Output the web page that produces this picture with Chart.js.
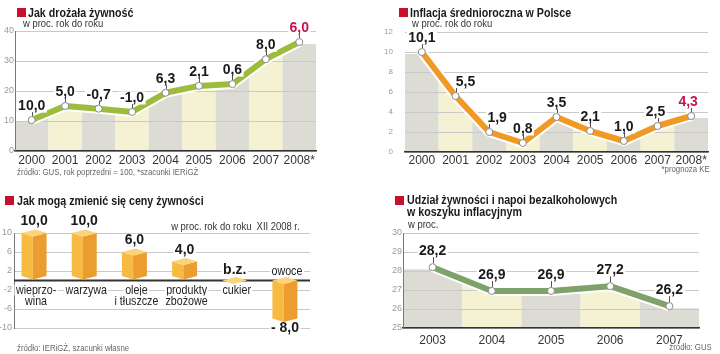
<!DOCTYPE html>
<html><head><meta charset="utf-8">
<script src="https://cdn.jsdelivr.net/npm/chart.js@4.4.1/dist/chart.umd.min.js"></script>
<style>
html,body{margin:0;padding:0;background:#fff;width:720px;height:354px;overflow:hidden}
body{position:relative;font-family:"Liberation Sans",Arial,sans-serif;color:#1a1a1a}
canvas{position:absolute}
.t{position:absolute;white-space:nowrap;line-height:1;transform:scaleX(0.82);transform-origin:left top}
.r{transform-origin:right top}
.title{font-weight:bold;font-size:13px}
.sq{position:absolute;width:9px;height:9px;background:#c8102e}
.sub{font-size:11.5px;color:#333}
.src{font-size:9.5px;color:#666}
</style></head><body>
<canvas id="c1" width="360" height="177" style="left:0;top:0"></canvas>
<canvas id="c2" width="360" height="177" style="left:360px;top:0"></canvas>
<canvas id="c3" width="360" height="177" style="left:0;top:177px"></canvas>
<canvas id="c4" width="360" height="177" style="left:360px;top:177px"></canvas>

<div class="sq" style="left:17px;top:8px"></div>
<div class="t title" style="left:28px;top:6px">Jak drożała żywność</div>
<div class="t sub" style="left:23px;top:17.5px">w proc. rok do roku</div>
<div class="t src" style="left:17px;top:167px">źródło: GUS, rok poprzedni = 100, *szacunki IERiGŻ</div>

<div class="sq" style="left:399px;top:8px"></div>
<div class="t title" style="left:410px;top:6px">Inflacja średnioroczna w Polsce</div>
<div class="t sub" style="left:412px;top:17.5px">w proc. rok do roku</div>
<div class="t src r" style="right:10px;top:164px">*prognoza KE</div>

<div class="sq" style="left:5px;top:195.5px"></div>
<div class="t title" style="left:17px;top:193.6px">Jak mogą zmienić się ceny żywności</div>
<div class="t sub r" style="right:420px;top:220.6px">w proc. rok do roku&nbsp;&nbsp;XII 2008 r.</div>
<div class="t src" style="left:17px;top:343px">źródło: IERiGŻ, szacunki własne</div>

<div class="sq" style="left:395px;top:196px"></div>
<div class="t title" style="left:407px;top:193.8px;line-height:12px">Udział żywności i napoi bezalkoholowych<br>w koszyku inflacyjnym</div>
<div class="t sub" style="left:408px;top:219.3px">w proc.</div>
<div class="t src r" style="right:8px;top:342px">źródło: GUS</div>

<script>
// ---------- DATA ----------
const foodYears = ['2000','2001','2002','2003','2004','2005','2006','2007','2008*'];
const foodLevel = [10.3, 15.0, 14.1, 13.0, 19.4, 21.7, 22.3, 30.6, 36.3];
const foodLabels = ['10,0','5,0','-0,7','-1,0','6,3','2,1','0,6','8,0','6,0'];

const inflYears = ['2000','2001','2002','2003','2004','2005','2006','2007','2008*'];
const inflValues = [10.0, 5.6, 2.0, 0.9, 3.5, 2.1, 1.1, 2.6, 3.6];
const inflLabels = ['10,1','5,5','1,9','0,8','3,5','2,1','1,0','2,5','4,3'];

const priceCategories = [['wieprzo-','wina'],['warzywa'],['oleje','i tłuszcze'],['produkty','zbożowe'],['cukier'],['owoce']];
const priceValues = [10, 10, 6, 4, 0, -8];
const priceLabels = ['10,0','10,0','6,0','4,0','b.z.','- 8,0'];

const shareYears = ['2003','2004','2005','2006','2007'];
const shareValues = [28.2, 26.95, 26.95, 27.2, 26.15];
const shareLabels = ['28,2','26,9','26,9','27,2','26,2'];

// ---------- STYLE ----------
const SANS = '"Liberation Sans",Arial,sans-serif';
const BAND_COLORS = ['#dcdcd5', '#f4f2d2'];
const HILITE = '#c8144e';
const NARROW_SCALE = 0.82;

const bandArea = {
  id: 'bandArea',
  beforeDraw(chart, args, opts) {
    if (!opts || !opts.enabled) return;
    const pts = chart.getDatasetMeta(0).data;
    const a = chart.chartArea;
    const ctx = chart.ctx;
    const off = 2;
    ctx.save();
    ctx.beginPath();
    ctx.moveTo(a.left, pts[0].y + off);
    pts.forEach(p => ctx.lineTo(p.x, p.y + off));
    ctx.lineTo(a.right, pts[pts.length - 1].y + off);
    ctx.lineTo(a.right, a.bottom);
    ctx.lineTo(a.left, a.bottom);
    ctx.closePath();
    ctx.clip();
    for (let i = 0; i < pts.length; i++) {
      const x0 = i === 0 ? a.left : (pts[i - 1].x + pts[i].x) / 2;
      const x1 = i === pts.length - 1 ? a.right : (pts[i].x + pts[i + 1].x) / 2;
      ctx.fillStyle = BAND_COLORS[i % 2];
      ctx.fillRect(x0, a.top, x1 - x0, a.bottom - a.top);
    }
    ctx.restore();
  }
};

function labelBox(ctx, text, x, y) {
  const w = ctx.measureText(text).width;
  ctx.fillStyle = '#fff';
  ctx.fillRect(x - w / 2 - 1.5, y - 6.5, w + 3, 13);
}

const pointLabels = {
  id: 'pointLabels',
  afterDatasetsDraw(chart, args, opts) {
    if (!opts || !opts.labels) return;
    const meta = chart.getDatasetMeta(0);
    const ctx = chart.ctx;
    ctx.save();
    ctx.font = 'bold 14px ' + SANS;
    ctx.textAlign = 'center';
    ctx.textBaseline = 'middle';
    meta.data.forEach((p, i) => {
      const text = opts.labels[i];
      const x = p.x + (opts.dx ? opts.dx[i] : 0);
      const y = p.y + opts.dy;
      labelBox(ctx, text, x, y);
      ctx.strokeStyle = '#555';
      ctx.lineWidth = 1;
      ctx.beginPath();
      ctx.moveTo(Math.round(p.x) + 0.5, p.y - 4);
      ctx.lineTo(Math.round(p.x) + 0.5, y + 6);
      ctx.stroke();
      ctx.fillStyle = (opts.hilite === i) ? HILITE : '#1a1a1a';
      ctx.fillText(text, x, y);
    });
    ctx.restore();
  }
};

Chart.register(bandArea, pointLabels);

function lineChart(id, labels, values, texts, color, yMin, yMax, step, lay, yWidth, xHeight, tickFont, tickPad, yBorder, dy, dx, hilite, xPad) {
  return new Chart(document.getElementById(id), {
    type: 'line',
    data: {
      labels: labels,
      datasets: [
        { data: values, borderColor: color, borderWidth: 6, tension: 0, borderJoinStyle: 'round',
          pointRadius: 3.5, pointBackgroundColor: '#fff', pointBorderColor: '#8a8a8a', pointBorderWidth: 1 },
        { data: values, borderColor: '#ffffff', borderWidth: 10, tension: 0, borderJoinStyle: 'round', pointRadius: 0 }
      ]
    },
    options: {
      responsive: false, animation: false, devicePixelRatio: 1,
      layout: { padding: lay },
      plugins: {
        legend: { display: false }, tooltip: { enabled: false }, title: { display: false },
        bandArea: { enabled: true },
        pointLabels: { labels: texts, dy: dy, dx: dx, hilite: hilite }
      },
      scales: {
        x: {
          offset: true,
          grid: { display: false, drawTicks: false, offset: true },
          border: { display: true, color: '#333', width: 1.5 },
          ticks: { color: '#333', font: { family: SANS, size: 12 }, padding: xPad, maxRotation: 0, autoSkip: false },
          afterFit(s) { s.height = xHeight; }
        },
        y: {
          min: yMin, max: yMax,
          grid: { color: '#c9c9c9', lineWidth: 1, drawTicks: false },
          border: { display: yBorder, color: '#777', width: 1 },
          ticks: { stepSize: step, color: '#9a9a9a', font: { family: SANS, size: tickFont }, padding: tickPad },
          afterFit(s) { s.width = yWidth; }
        }
      }
    }
  });
}

lineChart('c1', foodYears, foodLevel, foodLabels, '#9dbb3d', 0, 40, 10,
  { left: 0, top: 31, right: 44, bottom: 0 }, 15, 26, 9, 1, true, -14, null, 8, 2);

lineChart('c2', inflYears, inflValues, inflLabels, '#f09a26', 0, 12, 2,
  { left: 0, top: 32, right: 12, bottom: 0 }, 45, 25, 8, 12, false, -14, [0, 10, 8, 0, 0, 0, 0, -2, -3], 8, 1);

lineChart('c4', shareYears, shareValues, shareLabels, '#7fa16a', 25, 30, 1,
  { left: 0, top: 56, right: 21, bottom: 0 }, 43, 26, 9, 1, true, -16, null, -1, 5);

// ---------- 3D bar chart ----------
function narrowText(ctx, text, x, y) {
  ctx.save();
  ctx.translate(x, y);
  ctx.scale(NARROW_SCALE, 1);
  ctx.fillText(text, 0, 0);
  ctx.restore();
}

const bars3d = {
  id: 'bars3d',
  beforeDatasetsDraw(chart, args, opts) {
    if (!opts || !opts.enabled) return;
    const ctx = chart.ctx, a = chart.chartArea;
    const y0 = chart.scales.y.getPixelForValue(0);
    ctx.save();
    ctx.strokeStyle = '#333';
    ctx.lineWidth = 2;
    ctx.beginPath();
    ctx.moveTo(a.left, y0);
    ctx.lineTo(a.right, y0);
    ctx.stroke();
    ctx.restore();
  },
  afterDatasetsDraw(chart, args, opts) {
    if (!opts || !opts.enabled) return;
    const ctx = chart.ctx;
    const meta = chart.getDatasetMeta(0);
    const y0 = chart.scales.y.getPixelForValue(0);
    ctx.save();
    // category labels first (white boxes), then bars, then values
    ctx.textAlign = 'center';
    ctx.textBaseline = 'middle';
    ctx.font = '13px ' + SANS;
    meta.data.forEach((bar, i) => {
      const v = priceValues[i];
      const lines = priceCategories[i];
      lines.forEach((ln, k) => {
        const ly = v >= 0 ? y0 + 9.5 + k * 11 : y0 - 9 - (lines.length - 1 - k) * 11;
        const lx = bar.x + 2;
        const tw = ctx.measureText(ln).width * NARROW_SCALE;
        ctx.fillStyle = '#fff';
        ctx.fillRect(lx - tw / 2 - 1.5, ly - 5.5, tw + 3, 11);
        ctx.fillStyle = '#222';
        narrowText(ctx, ln, lx, ly);
      });
    });
    meta.data.forEach((bar, i) => {
      const w = bar.width;
      const L = bar.x - w / 2, R = bar.x + w / 2, M = L + w * 0.45;
      const yTop = Math.min(bar.y, bar.base), yBot = Math.max(bar.y, bar.base);
      const d = 3.5;
      const pos = priceValues[i] > 0;
      const yb = pos ? yBot - 1 - d : yBot;
      if (yBot - yTop > 1) {
        ctx.fillStyle = '#f7bb43';
        ctx.beginPath();
        ctx.moveTo(L, yTop); ctx.lineTo(M, yTop + d); ctx.lineTo(M, yb + d); ctx.lineTo(L, yb);
        ctx.closePath(); ctx.fill();
        ctx.fillStyle = '#eb9d2f';
        ctx.beginPath();
        ctx.moveTo(M, yTop + d); ctx.lineTo(R, yTop); ctx.lineTo(R, yb); ctx.lineTo(M, yb + d);
        ctx.closePath(); ctx.fill();
      }
      ctx.fillStyle = '#fcd27a';
      ctx.beginPath();
      ctx.moveTo(L, yTop); ctx.lineTo(M, yTop + d); ctx.lineTo(R, yTop); ctx.lineTo(L + R - M, yTop - d);
      ctx.closePath(); ctx.fill();
    });
    ctx.font = 'bold 14px ' + SANS;
    meta.data.forEach((bar, i) => {
      const v = priceValues[i];
      const yTop = Math.min(bar.y, bar.base), yBot = Math.max(bar.y, bar.base);
      let vy;
      if (v > 0) vy = yTop - 11.6;
      else if (v === 0) vy = y0 - 10.8;
      else vy = yBot + 10;
      labelBox(ctx, priceLabels[i], bar.x, vy);
      ctx.fillStyle = '#1a1a1a';
      ctx.fillText(priceLabels[i], bar.x, vy);
    });
    ctx.restore();
  }
};
Chart.register(bars3d);

new Chart(document.getElementById('c3'), {
  type: 'bar',
  data: {
    datasets: [{
      data: priceValues.map((v, i) => ({ x: i, y: v })),
      backgroundColor: 'rgba(0,0,0,0)', barThickness: 25
    }]
  },
  options: {
    responsive: false, animation: false, devicePixelRatio: 1,
    layout: { padding: { left: 0, top: 56, right: 50, bottom: 26 } },
    plugins: { legend: { display: false }, tooltip: { enabled: false }, bars3d: { enabled: true } },
    scales: {
      x: { type: 'linear', min: -0.4, max: 5.5, display: false, offset: false },
      y: {
        min: -10, max: 10,
        grid: { color: '#c9c9c9', lineWidth: 1, drawTicks: false },
        border: { display: true, color: '#777', width: 1 },
        ticks: { stepSize: 4, color: '#9a9a9a', font: { family: SANS, size: 9 }, padding: 2 },
        afterFit(s) { s.width = 14; }
      }
    }
  }
});
</script>
</body></html>
